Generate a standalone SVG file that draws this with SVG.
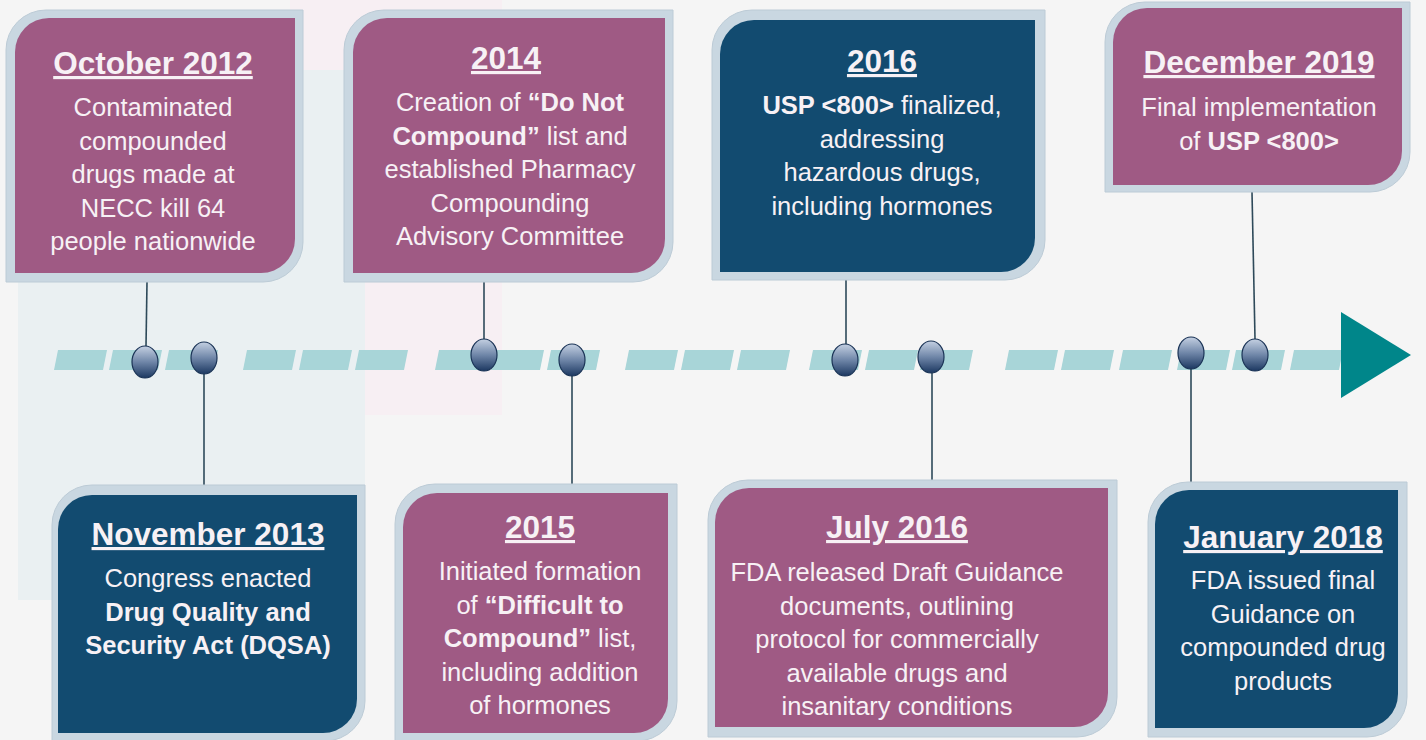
<svg xmlns="http://www.w3.org/2000/svg" width="1426" height="740" viewBox="0 0 1426 740">
<style>
.frame{fill:#c9d7e1;stroke:#bccbd6;stroke-width:1}
.pink{fill:#9f5a84}
.navy{fill:#124b70}
.t{font-family:"Liberation Sans",Arial,sans-serif;fill:#f7f1f5;text-anchor:middle}
.title{font-size:31.5px;font-weight:bold;text-decoration:underline}
.body{font-size:25.5px}
.b{font-weight:bold}
.conn{stroke:#2e4a5a;stroke-width:1.6;fill:none}
.dash{fill:#a8d5d8}
.bub{fill:url(#bg);stroke:#1a3356;stroke-width:1.2}
</style>
<defs>
<linearGradient id="bg" x1="0" y1="0" x2="0" y2="1">
<stop offset="0" stop-color="#c4d0e2"/>
<stop offset="0.5" stop-color="#6f86a8"/>
<stop offset="1" stop-color="#1c3861"/>
</linearGradient>
<path id="d" d="M4,350 H53 L49,370 H0 Z"/>
</defs>
<rect width="1426" height="740" fill="#f5f5f5"/>
<rect x="290" y="0" width="212" height="415" fill="#f7eff3"/>
<rect x="18" y="70" width="347" height="530" fill="#eaf0f2"/>
<g id="timeline">
<use href="#d" x="54" class="dash"/><use href="#d" x="109" class="dash"/><use href="#d" x="165" class="dash"/>
<use href="#d" x="243" class="dash"/><use href="#d" x="299" class="dash"/><use href="#d" x="355" class="dash"/>
<use href="#d" x="435" class="dash"/><use href="#d" x="491" class="dash"/><use href="#d" x="547" class="dash"/>
<use href="#d" x="625" class="dash"/><use href="#d" x="681" class="dash"/><use href="#d" x="737" class="dash"/>
<use href="#d" x="809" class="dash"/><use href="#d" x="865" class="dash"/><use href="#d" x="920" class="dash"/>
<use href="#d" x="1005" class="dash"/><use href="#d" x="1061" class="dash"/><use href="#d" x="1119" class="dash"/>
<use href="#d" x="1177" class="dash"/><use href="#d" x="1232" class="dash"/><use href="#d" x="1290" class="dash"/>
<polygon points="1341,312 1411,355 1341,398" fill="#00868a"/>
</g>
<g id="connectors">
<line class="conn" x1="147" y1="282" x2="146" y2="346"/>
<line class="conn" x1="204" y1="374" x2="204" y2="485"/>
<line class="conn" x1="484" y1="282" x2="484" y2="340"/>
<line class="conn" x1="572" y1="376" x2="572" y2="484"/>
<line class="conn" x1="846" y1="280" x2="846" y2="344"/>
<line class="conn" x1="932" y1="373" x2="932" y2="480"/>
<line class="conn" x1="1191" y1="369" x2="1191" y2="492"/>
<line class="conn" x1="1252" y1="192" x2="1255" y2="339"/>
</g>
<g id="markers">
<ellipse class="bub" cx="145" cy="362" rx="13" ry="16"/>
<ellipse class="bub" cx="204" cy="358" rx="13" ry="16"/>
<ellipse class="bub" cx="484" cy="355" rx="13" ry="16"/>
<ellipse class="bub" cx="572" cy="360" rx="13" ry="16"/>
<ellipse class="bub" cx="845" cy="360" rx="13" ry="16"/>
<ellipse class="bub" cx="931" cy="357" rx="13" ry="16"/>
<ellipse class="bub" cx="1191" cy="353" rx="13" ry="16"/>
<ellipse class="bub" cx="1255" cy="355" rx="13" ry="16"/>
</g>
<g id="oct2012">
<path class="frame" d="M46,10 H303 V242 A40,40 0 0 1 263,282 H6 V50 A40,40 0 0 1 46,10 Z"/>
<path class="pink" d="M49,18 H295 V239 A34,34 0 0 1 261,273 H15 V52 A34,34 0 0 1 49,18 Z"/>
<text class="t title" x="153" y="74">October 2012</text>
<text class="t body" x="153" y="116">Contaminated</text>
<text class="t body" x="153" y="149.5">compounded</text>
<text class="t body" x="153" y="183">drugs made at</text>
<text class="t body" x="153" y="216.5">NECC kill 64</text>
<text class="t body" x="153" y="250">people nationwide</text>
</g>
<g id="y2014">
<path class="frame" d="M384,10 H673 V242 A40,40 0 0 1 633,282 H344 V50 A40,40 0 0 1 384,10 Z"/>
<path class="pink" d="M387,18 H665 V239 A34,34 0 0 1 631,273 H353 V52 A34,34 0 0 1 387,18 Z"/>
<text class="t title" x="506" y="69">2014</text>
<text class="t body" x="510" y="111">Creation of <tspan class="b">“Do Not</tspan></text>
<text class="t body" x="510" y="144.5"><tspan class="b">Compound”</tspan> list and</text>
<text class="t body" x="510" y="178">established Pharmacy</text>
<text class="t body" x="510" y="211.5">Compounding</text>
<text class="t body" x="510" y="245">Advisory Committee</text>
</g>
<g id="y2016">
<path class="frame" d="M752,10 H1045 V240 A40,40 0 0 1 1005,280 H712 V50 A40,40 0 0 1 752,10 Z"/>
<path class="navy" d="M754,20 H1035 V238 A34,34 0 0 1 1001,272 H720 V54 A34,34 0 0 1 754,20 Z"/>
<text class="t title" x="882" y="72">2016</text>
<text class="t body" x="882" y="114"><tspan class="b">USP &lt;800&gt;</tspan> finalized,</text>
<text class="t body" x="882" y="147.5">addressing</text>
<text class="t body" x="882" y="181">hazardous drugs,</text>
<text class="t body" x="882" y="214.5">including hormones</text>
</g>
<g id="dec2019">
<path class="frame" d="M1145,2 H1410 V152 A40,40 0 0 1 1370,192 H1105 V42 A40,40 0 0 1 1145,2 Z"/>
<path class="pink" d="M1147,8 H1402 V151 A34,34 0 0 1 1368,185 H1113 V42 A34,34 0 0 1 1147,8 Z"/>
<text class="t title" x="1259" y="73">December 2019</text>
<text class="t body" x="1259" y="116">Final implementation</text>
<text class="t body" x="1259" y="149.5">of <tspan class="b">USP &lt;800&gt;</tspan></text>
</g>
<g id="nov2013">
<path class="frame" d="M92,485 H365 V701 A40,40 0 0 1 325,741 H52 V525 A40,40 0 0 1 92,485 Z"/>
<path class="navy" d="M92,495 H357 V699 A34,34 0 0 1 323,733 H58 V529 A34,34 0 0 1 92,495 Z"/>
<text class="t title" x="208" y="545">November 2013</text>
<text class="t body" x="208" y="587">Congress enacted</text>
<text class="t body b" x="208" y="620.5">Drug Quality and</text>
<text class="t body b" x="208" y="654">Security Act (DQSA)</text>
</g>
<g id="y2015">
<path class="frame" d="M435,484 H677 V701 A40,40 0 0 1 637,741 H395 V524 A40,40 0 0 1 435,484 Z"/>
<path class="pink" d="M437,493 H668 V699 A34,34 0 0 1 634,733 H403 V527 A34,34 0 0 1 437,493 Z"/>
<text class="t title" x="540" y="538">2015</text>
<text class="t body" x="540" y="580">Initiated formation</text>
<text class="t body" x="540" y="613.5">of <tspan class="b">“Difficult to</tspan></text>
<text class="t body" x="540" y="647"><tspan class="b">Compound”</tspan> list,</text>
<text class="t body" x="540" y="680.5">including addition</text>
<text class="t body" x="540" y="714">of hormones</text>
</g>
<g id="jul2016">
<path class="frame" d="M748,480 H1117 V697 A40,40 0 0 1 1077,737 H708 V520 A40,40 0 0 1 748,480 Z"/>
<path class="pink" d="M749,488 H1108 V693 A34,34 0 0 1 1074,727 H715 V522 A34,34 0 0 1 749,488 Z"/>
<text class="t title" x="897" y="538">July 2016</text>
<text class="t body" x="897" y="581">FDA released Draft Guidance</text>
<text class="t body" x="897" y="614.5">documents, outlining</text>
<text class="t body" x="897" y="648">protocol for commercially</text>
<text class="t body" x="897" y="681.5">available drugs and</text>
<text class="t body" x="897" y="715">insanitary conditions</text>
</g>
<g id="jan2018">
<path class="frame" d="M1188,482 H1407 V697 A40,40 0 0 1 1367,737 H1148 V522 A40,40 0 0 1 1188,482 Z"/>
<path class="navy" d="M1189,490 H1398 V694 A34,34 0 0 1 1364,728 H1155 V524 A34,34 0 0 1 1189,490 Z"/>
<text class="t title" x="1283" y="548">January 2018</text>
<text class="t body" x="1283" y="589">FDA issued final</text>
<text class="t body" x="1283" y="622.5">Guidance on</text>
<text class="t body" x="1283" y="656">compounded drug</text>
<text class="t body" x="1283" y="689.5">products</text>
</g>
</svg>
